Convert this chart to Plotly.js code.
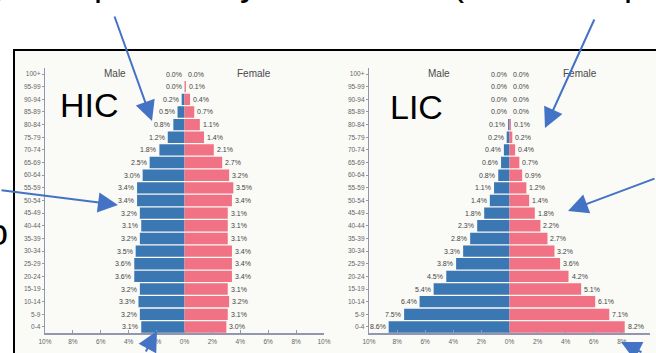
<!DOCTYPE html>
<html><head><meta charset="utf-8">
<script src="https://cdn.plot.ly/plotly-3.0.1.min.js"></script>
<style>html,body{margin:0;padding:0;background:#fff;}#chart{width:656px;height:353px;}</style>
</head><body><div id="chart"></div>
<script>
// ---- data (bottom to top) ----
const ages = ['0-4','5-9','10-14','15-19','20-24','25-29','30-34','35-39','40-44','45-49','50-54','55-59','60-64','65-69','70-74','75-79','80-84','85-89','90-94','95-99','100+'];
const hicMale   = [3.1,3.2,3.3,3.2,3.6,3.6,3.5,3.2,3.1,3.2,3.4,3.4,3.0,2.5,1.8,1.2,0.8,0.5,0.2,0.0,0.0];
const hicFemale = [3.0,3.1,3.2,3.1,3.4,3.4,3.4,3.1,3.1,3.1,3.4,3.5,3.2,2.7,2.1,1.4,1.1,0.7,0.4,0.1,0.0];
const licMale   = [8.6,7.5,6.4,5.4,4.5,3.8,3.3,2.8,2.3,1.8,1.4,1.1,0.8,0.6,0.4,0.2,0.1,0.0,0.0,0.0,0.0];
const licFemale = [8.2,7.1,6.1,5.1,4.2,3.6,3.2,2.7,2.2,1.8,1.4,1.2,0.9,0.7,0.4,0.2,0.1,0.0,0.0,0.0,0.0];
const xTickVals = [-10,-8,-6,-4,-2,0,2,4,6,8,10];
const xTickText = ['10%','8%','6%','4%','2%','0%','2%','4%','6%','8%','10%'];
const panelNames = ['HIC','LIC'];
const sexNames = ['Male','Female'];

// ---- styling ----
const W = 656, H = 353;
const MALE = '#3b77b2', FEMALE = '#f07284', AX = '#9496b0', LBL = '#444';
const px = x => x / W, py = y => 1 - y / H;
const FONT = 'Liberation Sans, Arial, sans-serif';

function bars(vals, sign, color, xa, ya) {
  return {type:'bar', orientation:'h', y:ages, x:vals.map(v => sign * v),
    marker:{color:color, line:{width:0}}, xaxis:xa, yaxis:ya, hoverinfo:'skip', showlegend:false};
}
const data = [
  bars(hicMale, -1, MALE, 'x', 'y'), bars(hicFemale, 1, FEMALE, 'x', 'y'),
  bars(licMale, -1, MALE, 'x2', 'y2'), bars(licFemale, 1, FEMALE, 'x2', 'y2')
];

const yDom = [py(333.3), py(67.7)];
function xaxis(dom, anchor) {
  return {domain:dom, range:[-10,10], tickvals:xTickVals, ticktext:xTickText, showgrid:false, zeroline:false,
    showline:true, linecolor:AX, linewidth:1.2, ticks:'inside', ticklen:3, tickcolor:AX, tickwidth:1,
    tickfont:{size:6.5, color:'#666', family:FONT}, anchor:anchor, fixedrange:true, ticklabelstandoff:2};
}
function yaxis(anchor) {
  return {domain:yDom, type:'category', categoryorder:'array', categoryarray:ages, range:[-0.5,20.5],
    showgrid:false, zeroline:false, showline:true, linecolor:AX, linewidth:1.2, ticks:'outside', ticklen:2,
    tickcolor:AX, tickfont:{size:6.5, color:'#666', family:FONT}, anchor:anchor, fixedrange:true};
}

const ann = [];
const fmt = v => v.toFixed(1) + '%';
function addLabels(vals, sign, xr, yr) {
  vals.forEach((v, i) => ann.push({xref:xr, yref:yr, x:sign * v, y:ages[i], text:fmt(v), showarrow:false,
    xanchor: sign < 0 ? 'right' : 'left', yanchor:'middle', xshift: sign < 0 ? -1 : 1, font:{size:7, color:LBL, family:FONT}}));
}
addLabels(hicMale, -1, 'x', 'y'); addLabels(hicFemale, 1, 'x', 'y');
addLabels(licMale, -1, 'x2', 'y2'); addLabels(licFemale, 1, 'x2', 'y2');

// Male / Female headers
['x','x2'].forEach(xr => {
  ann.push({xref:xr, yref:'paper', x:-5, y:py(73), text:sexNames[0], showarrow:false, xanchor:'center', yanchor:'middle', font:{size:10, color:'#4a4a4a', family:FONT}});
  ann.push({xref:xr, yref:'paper', x:5, y:py(73), text:sexNames[1], showarrow:false, xanchor:'center', yanchor:'middle', font:{size:10, color:'#4a4a4a', family:FONT}});
});
// big panel names
ann.push({xref:'paper', yref:'paper', x:px(89), y:py(105), text:panelNames[0], showarrow:false, xanchor:'center', yanchor:'middle', font:{size:34, color:'#000', family:FONT}});
ann.push({xref:'paper', yref:'paper', x:px(416), y:py(107), text:panelNames[1], showarrow:false, xanchor:'center', yanchor:'middle', font:{size:34, color:'#000', family:FONT}});

// clipped text fragments from the surrounding slide
[['g',-6,-17.5],['p',103.5,-17.5],['y',249,-17.5],['(',458,-17.5],['p',633.5,-17.5],['o',-2,232.5]].forEach(f => {
  ann.push({xref:'paper', yref:'paper', x:px(f[1]), y:py(f[2]), text:f[0], showarrow:false, xanchor:'center', yanchor:'middle',
    font:{size:36, color:'#000', family:FONT}});
});

// arrows
const ARC = '#4472c4';
[[152,121,-38,-106],[118,205,-123,-15],[157,331,-12,28],[545,128,50,-110],[568,211,92,-33],[621,342,22,18]].forEach(a => {
  ann.push({xref:'paper', yref:'paper', x:px(a[0]), y:py(a[1]), ax:a[2], ay:a[3], text:'', showarrow:true,
    arrowhead:2, arrowsize:2, arrowwidth:2, arrowcolor:ARC, standoff:0});
});

const layout = {
  width:W, height:H, margin:{l:0, r:0, t:0, b:0}, paper_bgcolor:'#ffffff', plot_bgcolor:'rgba(0,0,0,0)',
  barmode:'overlay', bargap:0.1, showlegend:false, font:{family:FONT},
  xaxis: xaxis([px(45), px(324)], 'y'), yaxis: yaxis('x'),
  xaxis2: xaxis([px(369), px(650)], 'y2'), yaxis2: yaxis('x2'),
  shapes:[{type:'rect', xref:'paper', yref:'paper', x0:px(14), x1:1.05, y0:-0.05, y1:py(50),
    fillcolor:'#fafaf7', line:{color:'#000', width:2}, layer:'below'}],
  annotations: ann
};
Plotly.newPlot('chart', data, layout, {staticPlot:true, displayModeBar:false});
</script></body></html>
